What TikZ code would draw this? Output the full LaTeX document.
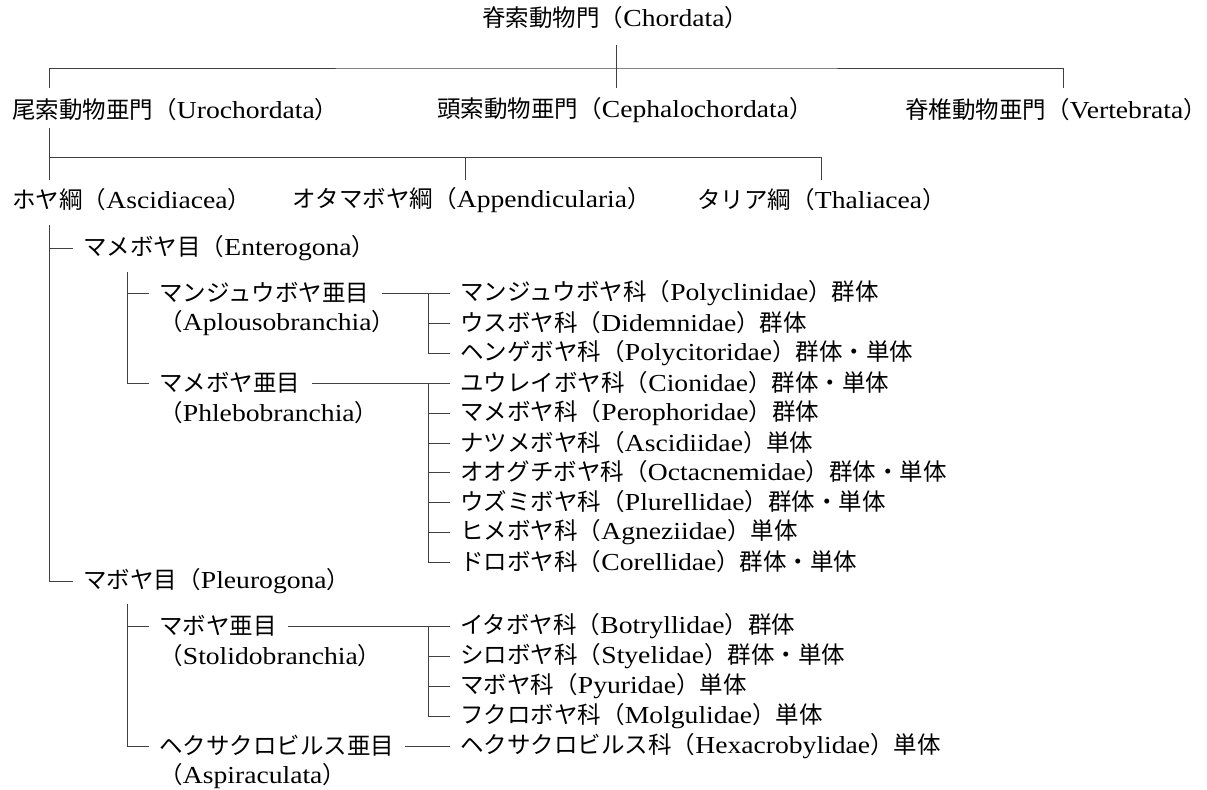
\documentclass[tikz,border=0pt]{standalone}
\usepackage{fontspec}
\setmainfont{Liberation Serif}[Scale=1.04,FakeStretch=1.13]
\newfontfamily\cjk{Noto Sans CJK JP}
\newcommand\J[1]{{\cjk #1}}
\begin{document}
\begin{tikzpicture}[x=0.5pt,y=-0.5pt,
  font=\fontsize{11.75pt}{14pt}\selectfont,
  lbl/.style={inner sep=0pt, anchor=west},
  ln/.style={line width=0.5pt, black!75}]
\useasboundingbox (0,0) rectangle (1207,789);
% ---- top levels
\node[lbl] (chor) at (482,18) {\J{脊索動物門（}Chordata\J{）}};
\node[lbl] (uro) at (12,110) {\J{尾索動物亜門（}Urochordata\J{）}};
\node[lbl] (ceph) at (437,110) {\J{頭索動物亜門（}Cephalochordata\J{）}};
\node[lbl] (vert) at (905,110) {\J{脊椎動物亜門（}Vertebrata\J{）}};
\node[lbl] (asc) at (12,200) {\J{ホヤ綱（}Ascidiacea\J{）}};
\node[lbl] (app) at (292,200) {\J{オタマボヤ綱（}Appendicularia\J{）}};
\node[lbl] (tha) at (697,200) {\J{タリア綱（}Thaliacea\J{）}};
% ---- orders
\node[lbl] (ent) at (83,248) {\J{マメボヤ目（}Enterogona\J{）}};
\node[lbl] (ple) at (83,581) {\J{マボヤ目（}Pleurogona\J{）}};
% ---- suborders
\node[lbl] (aplo) at (159,293) {\J{マンジュウボヤ亜目}};
\node[lbl] (aplo2) at (159,323) {\J{（}Aplousobranchia\J{）}};
\node[lbl] (phle) at (159,383) {\J{マメボヤ亜目}};
\node[lbl] (phle2) at (159,413) {\J{（}Phlebobranchia\J{）}};
\node[lbl] (stol) at (159,626) {\J{マボヤ亜目}};
\node[lbl] (stol2) at (159,656) {\J{（}Stolidobranchia\J{）}};
\node[lbl] (aspi) at (159,746) {\J{ヘクサクロビルス亜目}};
\node[lbl] (aspi2) at (159,776) {\J{（}Aspiraculata\J{）}};
% ---- families
\node[lbl] (f1) at (460,293) {\J{マンジュウボヤ科（}Polyclinidae\J{）群体}};
\node[lbl] (f2) at (460,323) {\J{ウスボヤ科（}Didemnidae\J{）群体}};
\node[lbl] (f3) at (460,353) {\J{ヘンゲボヤ科（}Polycitoridae\J{）群体・単体}};
\node[lbl] (f4) at (460,383) {\J{ユウレイボヤ科（}Cionidae\J{）群体・単体}};
\node[lbl] (f5) at (460,413) {\J{マメボヤ科（}Perophoridae\J{）群体}};
\node[lbl] (f6) at (460,443) {\J{ナツメボヤ科（}Ascidiidae\J{）単体}};
\node[lbl] (f7) at (460,472) {\J{オオグチボヤ科（}Octacnemidae\J{）群体・単体}};
\node[lbl] (f8) at (460,502) {\J{ウズミボヤ科（}Plurellidae\J{）群体・単体}};
\node[lbl] (f9) at (460,532) {\J{ヒメボヤ科（}Agneziidae\J{）単体}};
\node[lbl] (f10) at (460,562) {\J{ドロボヤ科（}Corellidae\J{）群体・単体}};
\node[lbl] (f11) at (460,626) {\J{イタボヤ科（}Botryllidae\J{）群体}};
\node[lbl] (f12) at (460,656) {\J{シロボヤ科（}Styelidae\J{）群体・単体}};
\node[lbl] (f13) at (460,686) {\J{マボヤ科（}Pyuridae\J{）単体}};
\node[lbl] (f14) at (460,716) {\J{フクロボヤ科（}Molgulidae\J{）単体}};
\node[lbl] (f15) at (460,746) {\J{ヘクサクロビルス科（}Hexacrobylidae\J{）単体}};
% ---- junction coordinates
\coordinate (tA) at (616,45);
\coordinate (tB) at (616,88);
\coordinate (tH) at (616,68);
\coordinate (tL) at (49,88);
\coordinate (tR) at (1063,88);
\coordinate (sA) at (49,128);
\coordinate (sB) at (49,180);
\coordinate (sH) at (465,157);
\coordinate (sM) at (465,180);
\coordinate (sR) at (821,180);
\coordinate (lA) at (49,225);
\coordinate (eA) at (127,272);
\coordinate (pA) at (127,604);
\coordinate (bx) at (428,0);
% ---- connectors
\draw[ln] (tA) -- (tB);
\draw[ln] (tL) |- (tH) -| (tR);
\draw[ln] (sA) -- (sB);
\draw[ln] (sH) -- (sM);
\draw[ln] (sA |- sH) -| (sR);
\draw[ln] (lA) |- ([xshift=-5pt]ple.west);
\draw[ln] (ent.west -| lA) -- ([xshift=-5pt]ent.west);
\draw[ln] (eA) |- ([xshift=-5pt]phle.west);
\draw[ln] (aplo.west -| eA) -- ([xshift=-5pt]aplo.west);
\draw[ln] (pA) |- ([xshift=-5pt]aspi.west);
\draw[ln] (stol.west -| pA) -- ([xshift=-5pt]stol.west);
% suborder to family lines
\draw[ln] ([xshift=6pt]aplo.east) -- ([xshift=-5pt]f1.west);
\draw[ln] ([xshift=5.5pt]phle.east) -- ([xshift=-5pt]f4.west);
\draw[ln] ([xshift=5.5pt]stol.east) -- ([xshift=-5pt]f11.west);
\draw[ln] ([xshift=5pt]aspi.east) -- ([xshift=-5pt]f15.west);
% family brackets
\draw[ln] (f1.west -| bx) |- ([xshift=-5pt]f3.west);
\draw[ln] (f2.west -| bx) -- ([xshift=-5pt]f2.west);
\draw[ln] (f4.west -| bx) |- ([xshift=-5pt]f10.west);
\foreach \f in {f5,f6,f7,f8,f9}{
  \draw[ln] (\f.west -| bx) -- ([xshift=-5pt]\f.west);
}
\draw[ln] (f11.west -| bx) |- ([xshift=-5pt]f14.west);
\foreach \f in {f12,f13}{
  \draw[ln] (\f.west -| bx) -- ([xshift=-5pt]\f.west);
}
\end{tikzpicture}
\end{document}
